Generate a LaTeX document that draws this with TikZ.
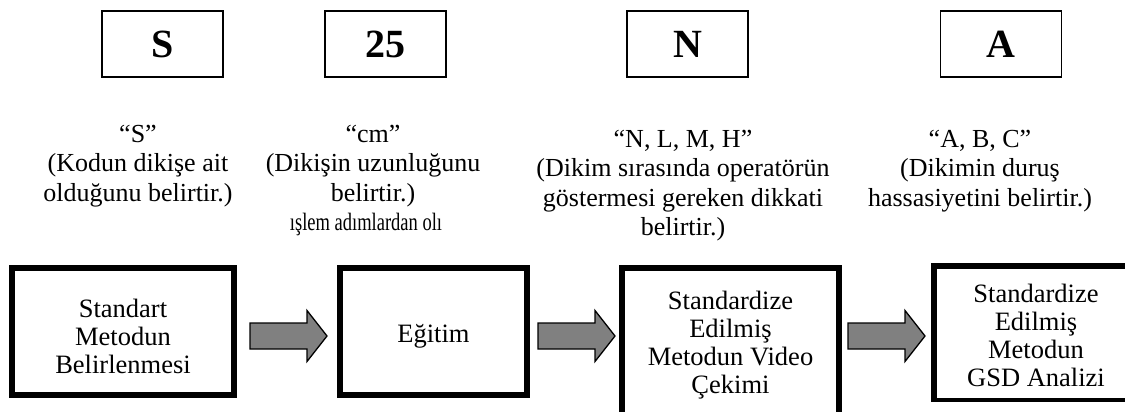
\documentclass[tikz,border=0pt]{standalone}
\usepackage{graphicx}
\usepackage{fontspec}
\setmainfont{Liberation Serif}
\definecolor{arrowgray}{RGB}{128,128,128}
\newcommand\blockarr[1]{%
  \draw[barrow] (#1) ++(0,-13) -- ++(57,0) -- ++(0,-12.5) -- ++(20,25.5) -- ++(-20,25.5) -- ++(0,-12.5) -- ++(-57,0) -- cycle;}
\begin{document}
\begin{tikzpicture}[x=1pt,y=-1pt,
  codebox/.style={draw, line width=1.8pt, minimum width=121pt, minimum height=66pt, inner sep=0pt, font=\fontsize{40}{44}\selectfont\bfseries},
  desc/.style={align=center, inner sep=0pt, anchor=north, font=\fontsize{26}{29.5}\selectfont},
  stepbox/.style={draw, line width=6pt, inner sep=0pt, align=center, font=\fontsize{26.5}{28}\selectfont},
  barrow/.style={draw, line width=1.3pt, fill=arrowgray, line join=miter}]
\useasboundingbox (0,0) rectangle (1125,412);
\clip (0,0) rectangle (1125,412);

% code boxes
\node[codebox] (cS)  at (162.5,44) {S};
\node[codebox] (c25) at (385.5,44) {25};
\node[codebox] (cN)  at (687.5,44) {N};
\node[codebox] (cA)  at (1001,44) {A};

% descriptions
\node[desc] (dS)  at (138,121.35) {\strut“S”\\(Kodun dikişe ait\\olduğunu belirtir.)};
\node[desc] (dcm) at (373,121.35) {\strut“cm”\\(Dikişin uzunluğunu\\belirtir.)};
\node[font=\fontsize{25}{28}\selectfont, anchor=base, inner sep=0pt] (extra) at (366,230.5) {\scalebox{0.74}[1]{ışlem adımlardan olı}};
\node[desc] (dN)  at (683,126.35) {\strut“N, L, M, H”\\(Dikim sırasında operatörün\\göstermesi gereken dikkati\\belirtir.)};
\node[desc] (dA)  at (980,126.35) {\strut“A, B, C”\\(Dikimin duruş\\hassasiyetini belirtir.)};

% step boxes
\node[stepbox, minimum width=222pt, minimum height=127pt] (s1) at (123,331.5)
  {\rule{0pt}{28pt}Standart\\Metodun\\Belirlenmesi};
\node[stepbox, minimum width=187pt, minimum height=127pt] (s2) at (433.5,331.5)
  {\rule{0pt}{28pt}Eğitim};
\node[stepbox, minimum width=217pt, minimum height=157pt] (s3) at (730.5,346.5)
  {\rule{0pt}{20pt}Standardize\\Edilmiş\\Metodun Video\\Çekimi\rule[-11pt]{0pt}{11pt}};
\begin{scope}
  \clip (900,250) rectangle (1125,401);
  \node[stepbox, minimum width=204pt, minimum height=135.4pt] (s4) at (1036,333.3)
    {\rule{0pt}{23.4pt}Standardize\\Edilmiş\\Metodun\\GSD Analizi};
\end{scope}

% block arrows
\coordinate (a1) at (250,336);
\coordinate (a2) at (538,336);
\coordinate (a3) at (848,336);
\blockarr{a1}
\blockarr{a2}
\blockarr{a3}
\end{tikzpicture}
\end{document}
